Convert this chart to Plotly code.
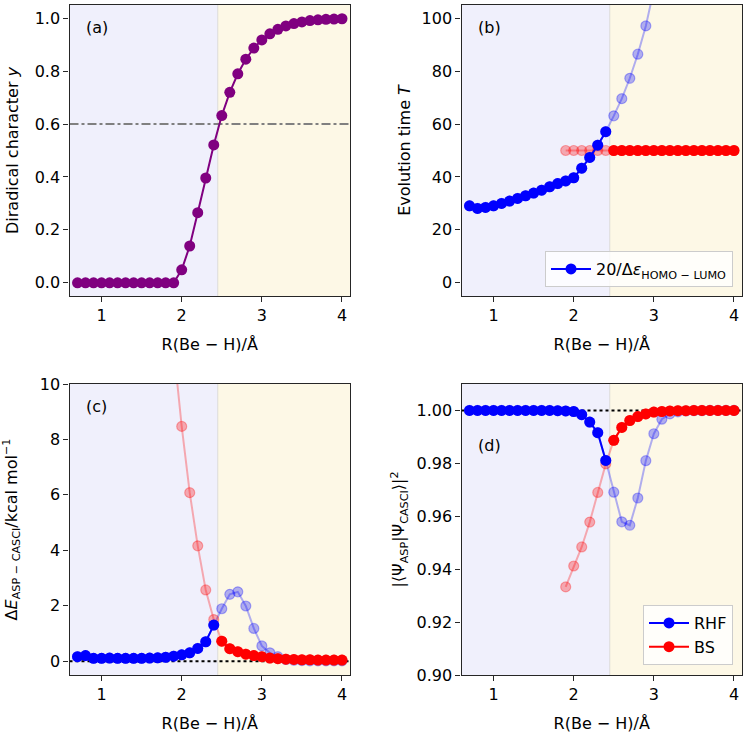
import plotly.graph_objects as go

# ---------------- data ----------------
R = [0.7, 0.8, 0.9, 1.0, 1.1, 1.2, 1.3, 1.4, 1.5, 1.6, 1.7, 1.8, 1.9, 2.0,
     2.1, 2.2, 2.3, 2.4, 2.5, 2.6, 2.7, 2.8, 2.9, 3.0, 3.1, 3.2, 3.3, 3.4,
     3.5, 3.6, 3.7, 3.8, 3.9, 4.0]
R_bs = R[12:]  # BS solutions exist from 1.9 Å

diradical_y = [0.0, 0.0, 0.0, 0.0, 0.0, 0.0, 0.0, 0.0, 0.0, 0.0, 0.0, 0.0, 0.0,
               0.049, 0.139, 0.265, 0.396, 0.521, 0.632, 0.72, 0.79, 0.845,
               0.887, 0.918, 0.941, 0.958, 0.971, 0.98, 0.986, 0.991, 0.994,
               0.996, 0.997, 0.998]

T_rhf = [29.1, 28.1, 28.5, 29.1, 30.0, 30.9, 31.9, 32.9, 33.9, 35.0, 36.3,
         37.5, 38.5, 39.7, 43.3, 47.4, 52.0, 57.1, 63.1, 69.6, 77.3, 86.4,
         97.1, 109.7, 124.5, None, None, None, None, None, None, None, None, None]
T_bs = [50, 50, 50, 50, 50, 50, 50, 50, 50, 50, 50, 50, 50, 50, 50, 50, 50,
        50, 50, 50, 50, 50]

dE_rhf = [0.16, 0.2, 0.1, 0.1, 0.11, 0.1, 0.1, 0.1, 0.1, 0.11, 0.12, 0.14,
          0.18, 0.23, 0.3, 0.46, 0.7, 1.3, 1.89, 2.41, 2.5, 1.99, 1.18, 0.55,
          0.3, 0.16, 0.06, 0.03, 0.02, 0.01, 0.01, 0.01, 0.01, 0.01]
dE_bs = [11.3, 8.47, 6.08, 4.16, 2.57, 1.5, 0.72, 0.45, 0.34, 0.25, 0.2, 0.16,
         0.11, 0.09, 0.07, 0.06, 0.05, 0.05, 0.04, 0.04, 0.04, 0.04]

ov_rhf = [1.0, 1.0, 1.0, 1.0, 1.0, 1.0, 1.0, 1.0, 1.0, 1.0, 1.0, 0.9999,
          0.9998, 0.9996, 0.9984, 0.9956, 0.9916, 0.9811, 0.9691, 0.9579,
          0.9566, 0.9669, 0.981, 0.9912, 0.9967, 0.9987, 0.9995, 0.9998,
          0.9999, 0.9999, 1.0, 1.0, 1.0, 1.0]
ov_bs = [0.9333, 0.9412, 0.9484, 0.9578, 0.969, 0.9798, 0.9887, 0.9936,
         0.9962, 0.9977, 0.9987, 0.9994, 0.9996, 0.9998, 0.9999, 0.9999,
         1.0, 1.0, 1.0, 1.0, 1.0, 1.0]

x_ticks = [1, 2, 3, 4]
boundary = 2.45
n_rhf_solid = 18   # points up to 2.4 Å
n_bs_skip = 6      # BS solid starts at 2.5 Å

# ---------------- styling ----------------
BLUE = "#0000ff"
RED = "#ff0000"
PURPLE = "#800080"
FADE_B = "rgba(0,0,255,0.3)"
FADE_R = "rgba(255,0,0,0.3)"
FONT = "DejaVu Sans"
FS = 16
LAV = "#f0f0fc"
YEL = "#fdf8e6"

W, H = 746, 733
colx = [(69.5, 350), (461.5, 742)]
rowy = [(5, 296), (384, 675)]


def xdom(c):
    return [colx[c][0] / W, colx[c][1] / W]


def ydom(r):
    return [1 - rowy[r][1] / H, 1 - rowy[r][0] / H]


fig = go.Figure()

panels = [("x", "y", 0, 0), ("x2", "y2", 0, 1), ("x3", "y3", 1, 0), ("x4", "y4", 1, 1)]


def solid(x, y, color, xa, ya, name=None, legend=None, show=False):
    fig.add_trace(go.Scatter(
        x=x, y=y, mode="lines+markers", xaxis=xa, yaxis=ya,
        line=dict(color=color, width=2),
        marker=dict(color=color, size=11),
        name=name, showlegend=show, legend=legend))


def faded(x, y, color, xa, ya):
    fig.add_trace(go.Scatter(
        x=x, y=y, mode="lines+markers", xaxis=xa, yaxis=ya,
        line=dict(color=color, width=2),
        marker=dict(color=color, size=10, line=dict(color=color, width=1.2)),
        showlegend=False))


def hline(yv, xa, ya, dash, color):
    fig.add_trace(go.Scatter(
        x=[0.6, 4.1], y=[yv, yv], mode="lines", xaxis=xa, yaxis=ya,
        line=dict(color=color, width=2, dash=dash), showlegend=False))


# (a)
hline(0.6, "x", "y", "dashdot", "#808080")
solid(R, diradical_y, PURPLE, "x", "y")

# (b)
faded(R, T_rhf, FADE_B, "x2", "y2")
faded(R_bs, T_bs, FADE_R, "x2", "y2")
solid(R_bs[n_bs_skip:], T_bs[n_bs_skip:], RED, "x2", "y2")
solid(R[:n_rhf_solid], T_rhf[:n_rhf_solid], BLUE, "x2", "y2",
      name="20/Δ<i>ε</i><sub>HOMO − LUMO</sub>", legend="legend", show=True)

# (c)
hline(0.0, "x3", "y3", "dot", "black")
faded(R, dE_rhf, FADE_B, "x3", "y3")
faded(R_bs, dE_bs, FADE_R, "x3", "y3")
solid(R[:n_rhf_solid], dE_rhf[:n_rhf_solid], BLUE, "x3", "y3")
solid(R_bs[n_bs_skip:], dE_bs[n_bs_skip:], RED, "x3", "y3")

# (d)
hline(1.0, "x4", "y4", "dot", "black")
faded(R, ov_rhf, FADE_B, "x4", "y4")
faded(R_bs, ov_bs, FADE_R, "x4", "y4")
solid(R[:n_rhf_solid], ov_rhf[:n_rhf_solid], BLUE, "x4", "y4",
      name="RHF", legend="legend2", show=True)
solid(R_bs[n_bs_skip:], ov_bs[n_bs_skip:], RED, "x4", "y4",
      name="BS", legend="legend2", show=True)

# shading
shapes = []
annotations = []
labels = ["(a)", "(b)", "(c)", "(d)"]
label_y = [0.924, 0.924, 0.924, 0.79]
for i, (xa, ya, r, c) in enumerate(panels):
    yref = ya + " domain"
    shapes.append(dict(type="rect", xref=xa, yref=yref, x0=0.6, x1=boundary,
                       y0=0, y1=1, fillcolor=LAV, line=dict(width=0), layer="below"))
    shapes.append(dict(type="rect", xref=xa, yref=yref, x0=boundary, x1=4.1,
                       y0=0, y1=1, fillcolor=YEL, line=dict(width=0), layer="below"))
    shapes.append(dict(type="line", xref=xa, yref=yref, x0=boundary, x1=boundary,
                       y0=0, y1=1, line=dict(color="rgba(200,200,200,0.6)", width=1),
                       layer="below"))
    annotations.append(dict(text=labels[i], xref=xa + " domain", yref=yref,
                            x=0.05, y=label_y[i], xanchor="left", yanchor="middle",
                            showarrow=False, font=dict(family=FONT, size=FS, color="black")))

axis_common = dict(showline=True, linecolor="#262626", linewidth=1.3, mirror=True,
                   ticks="outside", ticklen=5, tickwidth=1.3, tickcolor="#262626",
                   showgrid=False, zeroline=False, automargin=False,
                   tickfont=dict(family=FONT, size=FS, color="black"))

ytitles = ["Diradical character <i>y</i>", "Evolution time <i>T</i>",
           "Δ<i>E</i><sub>ASP − CASCI</sub>/kcal mol<sup>−1</sup>",
           "|⟨Ψ<sub>ASP</sub>|Ψ<sub>CASCI</sub>⟩|<sup>2</sup>"]
yranges = [[-0.05, 1.05], [-5, 105], [-0.5, 10], [0.90, 1.01]]
ytickvals = [[0, 0.2, 0.4, 0.6, 0.8, 1.0], [0, 20, 40, 60, 80, 100],
             [0, 2, 4, 6, 8, 10], [0.90, 0.92, 0.94, 0.96, 0.98, 1.00]]
yfmt = [".1f", "d", "d", ".2f"]
ystandoff = [12, 7, 18, 7]

layout = {}
for i, (xa, ya, r, c) in enumerate(panels):
    xkey = "xaxis" if i == 0 else "xaxis%d" % (i + 1)
    ykey = "yaxis" if i == 0 else "yaxis%d" % (i + 1)
    layout[xkey] = dict(axis_common, domain=xdom(c), anchor=ya, range=[0.6, 4.1],
                        tickvals=x_ticks,
                        title=dict(text="R(Be − H)/Å", standoff=14,
                                   font=dict(family=FONT, size=FS, color="black")))
    layout[ykey] = dict(axis_common, domain=ydom(r), anchor=xa, range=yranges[i],
                        tickvals=ytickvals[i], tickformat=yfmt[i],
                        title=dict(text=ytitles[i], standoff=ystandoff[i],
                                   font=dict(family=FONT, size=FS, color="black")))

legend_style = dict(xanchor="right", yanchor="bottom", itemwidth=40,
                    bgcolor="rgba(255,255,255,0.8)", bordercolor="#cccccc", borderwidth=1,
                    font=dict(family=FONT, size=FS, color="black"))
fig.update_layout(
    **layout,
    width=W, height=H,
    margin=dict(l=0, r=0, t=0, b=0, autoexpand=False),
    paper_bgcolor="white", plot_bgcolor="white",
    font=dict(family=FONT, size=FS, color="black"),
    shapes=shapes, annotations=annotations,
    legend=dict(legend_style, x=733 / W, y=1 - 287 / H),
    legend2=dict(legend_style, x=733 / W, y=1 - 665 / H),
)

fig.write_html("out.html", config={"displayModeBar": False},
               post_script="document.body.style.margin='0';document.body.style.overflow='hidden';")
